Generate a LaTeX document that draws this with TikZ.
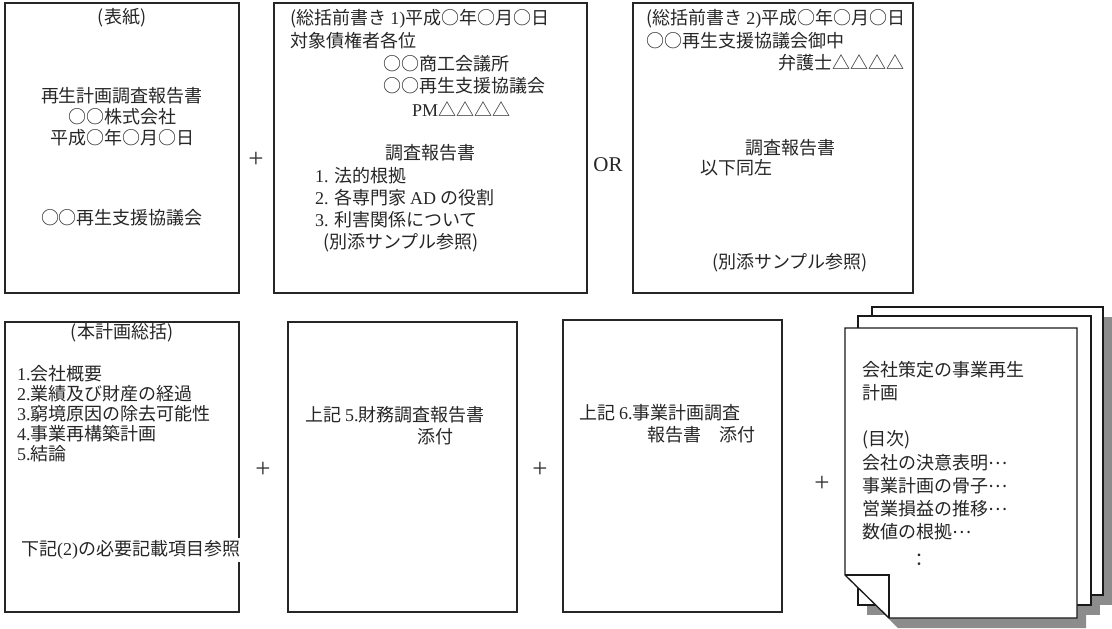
\documentclass[tikz,border=0pt]{standalone}
\usepackage{fontspec}
\setmainfont{Liberation Serif}
\newfontfamily\jp{Noto Sans CJK JP}
\newcommand\lt[1]{{\rmfamily #1}}
\newcommand\mdots{\raisebox{0.32em}{…}}
\begin{document}
\begin{tikzpicture}[x=1pt,y=-1pt,
  box/.style={draw=black!85,line width=1.2pt},
  txt/.style={font=\jp\fontsize{18}{21}\selectfont,inner sep=0pt,text=black!85},
  lx/.style={txt,anchor=west},
  sym/.style={font=\rmfamily\fontsize{21}{21}\selectfont,inner sep=0pt,text=black!85},
  plus/.style={font=\rmfamily\fontsize{27}{27}\selectfont,inner sep=0pt,text=black!80},
  page/.style={draw=black!90,line width=1.3pt,fill=white},
  shade/.style={fill=black!45,draw=none}]
\useasboundingbox (0,0) rectangle (1112,629);
% ---------- top row ----------
\draw[box] (5,3) rectangle (239,293);
\node[txt] (t1a) at (122,18) {(表紙)};
\node[txt] (t1b) at (122,96) {再生計画調査報告書};
\node[txt] (t1c) at (122,117) {○○株式会社};
\node[txt] (t1d) at (122,138) {平成○年○月○日};
\node[txt] (t1e) at (122,218) {○○再生支援協議会};
\node[plus] (p1) at (256,160) {+};
\draw[box] (274,3) rectangle (587,293);
\node[lx] (t2a) at (290,19) {(総括前書き \lt{1)}平成○年○月○日};
\node[lx] (t2b) at (290,41) {対象債権者各位};
\node[lx] (t2c) at (383,64) {○○商工会議所};
\node[lx] (t2d) at (383,86) {○○再生支援協議会};
\node[lx] (t2e) at (412,109) {\lt{PM}△△△△};
\node[lx] (t2f) at (385,153) {調査報告書};
\node[lx] (t2g) at (315,176) {\lt{1.} 法的根拠};
\node[lx] (t2h) at (315,198) {\lt{2.} 各専門家 \lt{AD} の役割};
\node[lx] (t2i) at (315,220) {\lt{3.} 利害関係について};
\node[lx] (t2j) at (323,243) {(別添サンプル参照)};
\node[sym] (or) at (608,165) {OR};
\draw[box] (633,3) rectangle (913,293);
\node[lx] (t3a) at (646,19) {(総括前書き \lt{2)}平成○年○月○日};
\node[lx] (t3b) at (646,41) {○○再生支援協議会御中};
\node[txt,anchor=east] (t3c) at (905,63) {弁護士△△△△};
\node[lx] (t3d) at (745,148) {調査報告書};
\node[lx] (t3e) at (700,168) {以下同左};
\node[lx] (t3f) at (712,263) {(別添サンプル参照)};
% ---------- bottom row ----------
\draw[box] (5,322) rectangle (239,612);
\node[txt] (t4a) at (122,333) {(本計画総括)};
\node[lx] (t4b) at (17,374) {\lt{1.}会社概要};
\node[lx] (t4c) at (17,394) {\lt{2.}業績及び財産の経過};
\node[lx] (t4d) at (17,414) {\lt{3.}窮境原因の除去可能性};
\node[lx] (t4e) at (17,434) {\lt{4.}事業再構築計画};
\node[lx] (t4f) at (17,454) {\lt{5.}結論};
\node[lx,fill=white,inner ysep=3pt,inner xsep=5pt] (t4g) at (16,550) {下記\lt{(2)}の必要記載項目参照};
\node[plus] (p2) at (263,470) {+};
\draw[box] (288,322) rectangle (517,612);
\node[lx] (t5a) at (305,415) {上記 \lt{5.}財務調査報告書};
\node[lx] (t5b) at (417,437) {添付};
\node[plus] (p3) at (540,470) {+};
\draw[box] (563,320) rectangle (782,612);
\node[lx] (t6a) at (579,413) {上記 \lt{6.}事業計画調査};
\node[lx] (t6b) at (647,435) {報告書　添付};
\node[plus] (p4) at (822,484) {+};
% ---------- stacked pages ----------
\begin{scope}[shift={(9,10)}]
  \fill[shade] (872,307) rectangle (1103,595);
  \fill[shade] (858,316) rectangle (1091,605);
  \fill[shade] (845,328) -- (1077,328) -- (1077,618) -- (889,618) -- (845,575) -- cycle;
\end{scope}
\draw[page] (872,307) rectangle (1103,595);
\draw[page] (858,316) rectangle (1091,605);
\draw[page,line join=miter] (845,328) -- (1077,328) -- (1077,618) -- (889,618) -- (845,575) -- cycle;
\draw[page,fill=none] (845,575) -- (889,575) -- (889,618);
\node[lx] (t7a) at (862,370) {会社策定の事業再生};
\node[lx] (t7b) at (862,393) {計画};
\node[lx] (t7c) at (862,440) {(目次)};
\node[lx] (t7d) at (862,463) {会社の決意表明\mdots};
\node[lx] (t7e) at (862,486) {事業計画の骨子\mdots};
\node[lx] (t7f) at (862,509) {営業損益の推移\mdots};
\node[lx] (t7g) at (862,532) {数値の根拠\mdots};
\node[lx] (t7h) at (910,560) {：};
\end{tikzpicture}
\end{document}
